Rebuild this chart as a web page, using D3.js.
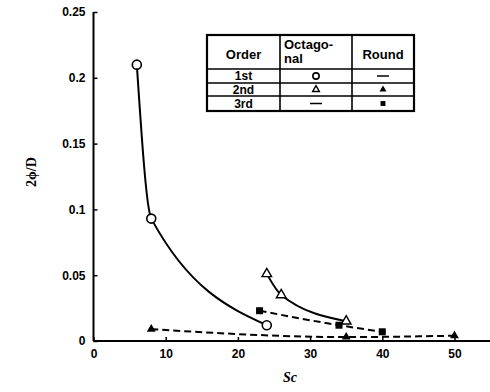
<!DOCTYPE html>
<html>
<head>
<meta charset="utf-8">
<script src="https://cdn.jsdelivr.net/npm/d3@7"></script>
<style>
  body { margin: 0; background: #fff; }
  svg { display: block; }
</style>
</head>
<body>
<div id="chart"></div>
<script>
// data
const octFirst = [[6, 0.21], [8, 0.093], [24, 0.012]];      // open circles, solid
const octSecond = [[24, 0.051], [26, 0.035], [35, 0.015]];  // open triangles, solid
const roundSecond = [[8, 0.009], [35, 0.003], [50, 0.004]]; // filled triangles, dashed
const roundThird = [[23, 0.023], [34, 0.012], [40, 0.007]]; // filled squares, dashed

const xTicks = [0, 10, 20, 30, 40, 50];
const yTicks = [0, 0.05, 0.1, 0.15, 0.2, 0.25];
const yTickLabels = ["0", "0.05", "0.1", "0.15", "0.2", "0.25"];

const legendOrders = ["1st", "2nd", "3rd"];
const legendOct = ["circle", "triangle", null];
const legendRound = [null, "triangleFilled", "square"];

const W = 490, H = 392;
const svg = d3.select("#chart").append("svg")
    .attr("width", W)
    .attr("height", H);

const x = d3.scaleLinear().domain([0, 55]).range([93.5, 490.6]);
const y = d3.scaleLinear().domain([0, 0.25]).range([341, 12]);

const font = "'Liberation Sans', Arial, sans-serif";

// axes
const xAxis = svg.append("g")
    .attr("transform", `translate(0,${y(0)})`)
    .call(d3.axisBottom(x).tickValues(xTicks).tickSize(-4).tickPadding(8).tickFormat(d3.format("d")));
const yAxis = svg.append("g")
    .attr("transform", `translate(${x(0)},0)`)
    .call(d3.axisLeft(y).tickValues(yTicks).tickSize(-4).tickPadding(8)
        .tickFormat((d, i) => yTickLabels[i]));

[xAxis, yAxis].forEach(g => {
    g.select(".domain").attr("stroke-width", 2);
    g.selectAll(".tick line").attr("stroke-width", 1.5);
    g.selectAll("text")
        .style("font-family", font)
        .style("font-weight", "bold")
        .style("font-size", "12px")
        .attr("fill", "#000");
});
xAxis.select(".domain").attr("d", `M${x(0)},0H${W}`);
yAxis.select(".domain").attr("d", `M0,${y(0)}V${y(0.25)}`);

// axis titles
svg.append("text")
    .attr("x", 290)
    .attr("y", 382)
    .attr("text-anchor", "middle")
    .style("font-family", "'Liberation Serif', serif")
    .style("font-style", "italic")
    .style("font-weight", "bold")
    .style("font-size", "14px")
    .text("Sc");

svg.append("text")
    .attr("transform", "translate(36,172) rotate(-90)")
    .attr("text-anchor", "middle")
    .style("font-family", "'Liberation Serif', serif")
    .style("font-weight", "bold")
    .style("font-size", "14px")
    .text("2ϕ/D");

// lines
const line = d3.line()
    .x(d => x(d[0]))
    .y(d => y(d[1]))
    .curve(d3.curveMonotoneX);

function drawLine(data, dashed) {
    svg.append("path")
        .datum(data)
        .attr("fill", "none")
        .attr("stroke", "#000")
        .attr("stroke-width", 2)
        .attr("stroke-dasharray", dashed ? "7,4" : null)
        .attr("d", line);
}
drawLine(roundSecond, true);
drawLine(roundThird, true);
drawLine(octFirst, false);
drawLine(octSecond, false);

// markers
function marker(g, type, cx, cy, k) {
    k = k || 1;
    if (type === "circle") {
        g.append("circle").attr("cx", cx).attr("cy", cy).attr("r", 4.5 * k)
            .attr("fill", "#fff").attr("stroke", "#000").attr("stroke-width", 1.6);
    } else if (type === "triangle" || type === "triangleFilled") {
        g.append("path")
            .attr("transform", `translate(${cx},${cy})`)
            .attr("d", d3.symbol().type(d3.symbolTriangle)
                .size((type === "triangle" ? 40 : 18) * k * k)())
            .attr("fill", type === "triangle" ? "#fff" : "#000")
            .attr("stroke", "#000").attr("stroke-width", 1.4);
    } else if (type === "square") {
        g.append("rect").attr("x", cx - 3.5 * k).attr("y", cy - 3.5 * k)
            .attr("width", 7 * k).attr("height", 7 * k).attr("fill", "#000");
    }
}

const marks = svg.append("g");
octFirst.forEach(d => marker(marks, "circle", x(d[0]), y(d[1])));
octSecond.forEach(d => marker(marks, "triangle", x(d[0]), y(d[1])));
roundSecond.forEach(d => marker(marks, "triangleFilled", x(d[0]), y(d[1])));
roundThird.forEach(d => marker(marks, "square", x(d[0]), y(d[1])));

// legend table
const tbl = svg.append("g");
const colX = [207, 280, 352, 414];
const rowY = [35, 69, 83, 96, 111];

tbl.append("rect")
    .attr("x", colX[0]).attr("y", rowY[0])
    .attr("width", colX[3] - colX[0]).attr("height", rowY[4] - rowY[0])
    .attr("fill", "#fff").attr("stroke", "#000").attr("stroke-width", 2.2);
colX.slice(1, 3).forEach(cx => {
    tbl.append("line").attr("x1", cx).attr("x2", cx)
        .attr("y1", rowY[0]).attr("y2", rowY[4])
        .attr("stroke", "#000").attr("stroke-width", 1.6);
});
rowY.slice(1, 4).forEach(ry => {
    tbl.append("line").attr("x1", colX[0]).attr("x2", colX[3])
        .attr("y1", ry).attr("y2", ry)
        .attr("stroke", "#000").attr("stroke-width", 1.6);
});

function cellText(txt, cx, cy, size) {
    tbl.append("text")
        .attr("x", cx).attr("y", cy)
        .attr("text-anchor", "middle")
        .attr("dominant-baseline", "central")
        .style("font-family", font)
        .style("font-weight", "bold")
        .style("font-size", size + "px")
        .text(txt);
}
cellText("Order", (colX[0] + colX[1]) / 2, 54, 13);
tbl.append("text")
    .attr("x", colX[1] + 4).attr("y", 49)
    .style("font-family", font).style("font-weight", "bold").style("font-size", "13px")
    .text("Octago-");
tbl.append("text")
    .attr("x", colX[1] + 4).attr("y", 63)
    .style("font-family", font).style("font-weight", "bold").style("font-size", "13px")
    .text("nal");
cellText("Round", (colX[2] + colX[3]) / 2, 54, 13);

legendOrders.forEach((o, i) => {
    const cy = (rowY[i + 1] + rowY[i + 2]) / 2;
    cellText(o, (colX[0] + colX[1]) / 2, cy, 12);
    [legendOct[i], legendRound[i]].forEach((s, j) => {
        const cx = (colX[j + 1] + colX[j + 2]) / 2;
        if (s) marker(tbl, s, cx, cy, 0.7);
        else tbl.append("line")
            .attr("x1", cx - 6).attr("x2", cx + 6)
            .attr("y1", cy).attr("y2", cy)
            .attr("stroke", "#000").attr("stroke-width", 1.5);
    });
});
</script>
</body>
</html>
